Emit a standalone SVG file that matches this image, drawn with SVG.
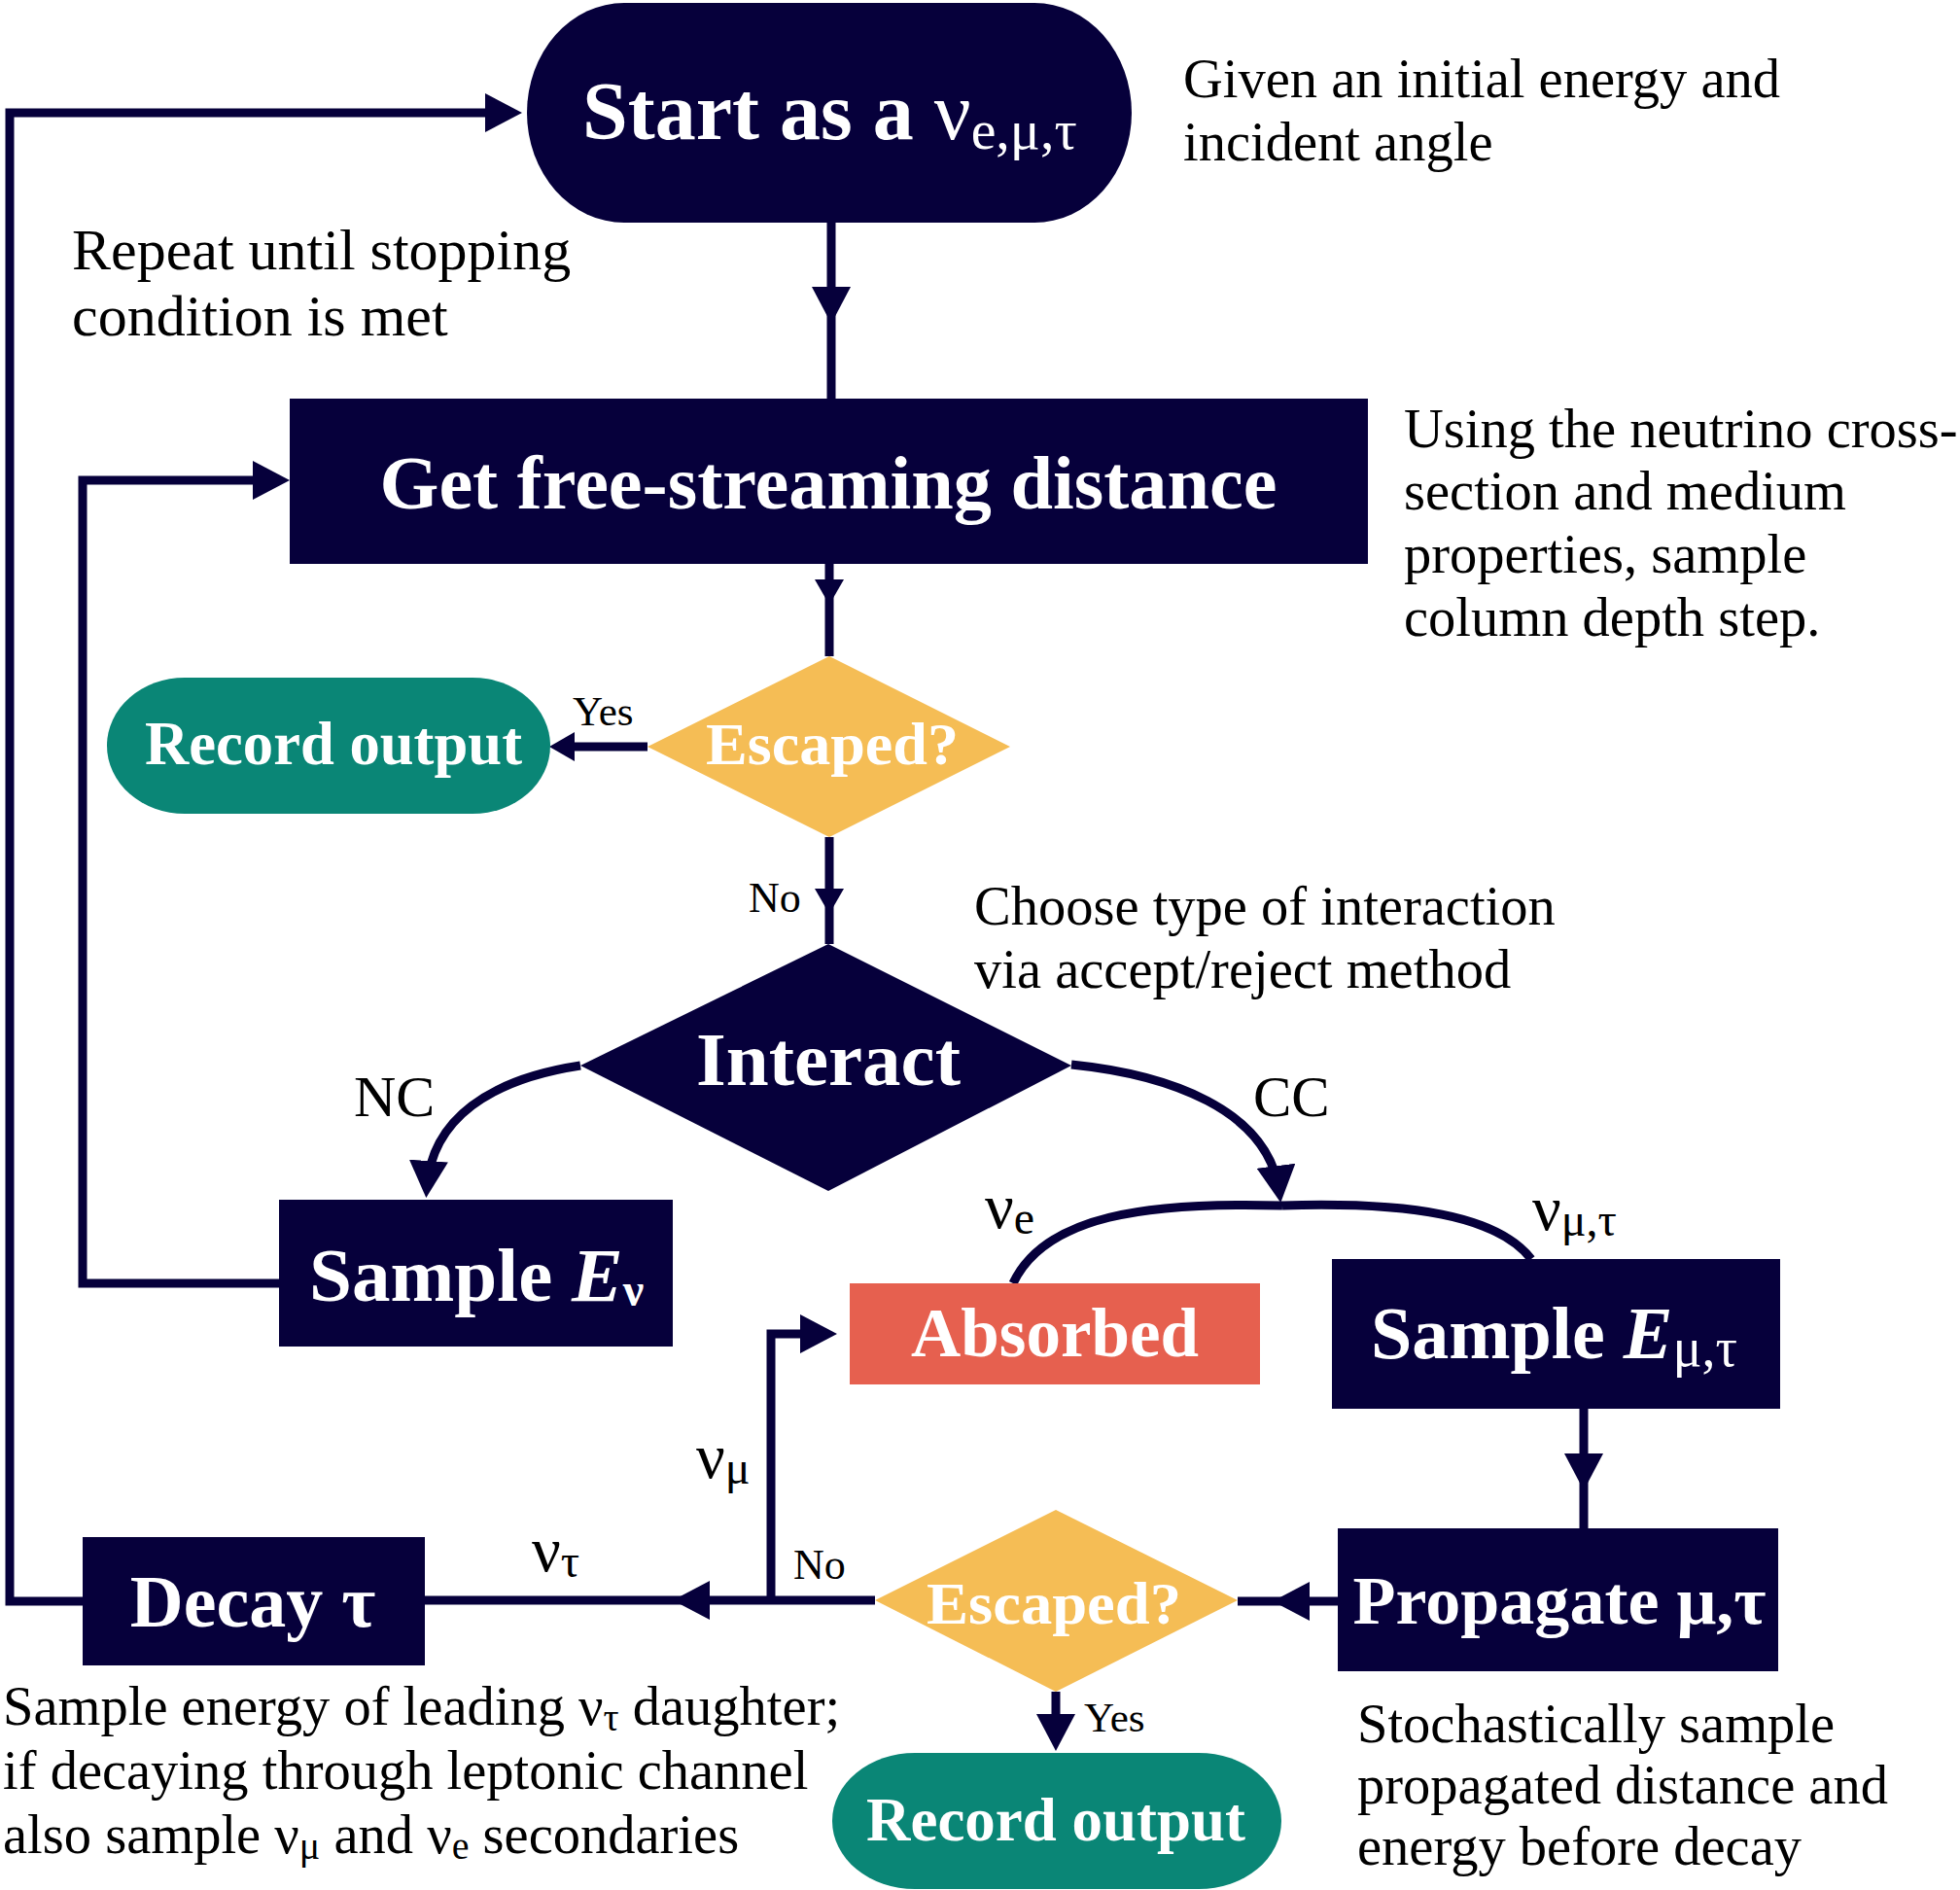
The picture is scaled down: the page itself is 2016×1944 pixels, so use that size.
<svg xmlns="http://www.w3.org/2000/svg" width="2016" height="1944" viewBox="0 0 2016 1944">
<defs>
<style>
.navy{fill:#06003B}
.orange{fill:#F5BD55}
.teal{fill:#0A8676}
.coral{fill:#E6604F}
.lbl{font-family:"Liberation Serif","Times New Roman",serif;font-weight:bold;fill:#FFFFFF}
.ann{font-family:"Liberation Serif","Times New Roman",serif;fill:#000000;font-size:56.5px}
.ann.big{font-size:60px}
.tag{font-family:"Liberation Serif","Times New Roman",serif;fill:#000000}
.conn{fill:none;stroke:#06003B;stroke-width:9}
.head{fill:#06003B}
</style>
<marker id="mb" markerUnits="userSpaceOnUse" viewBox="0 0 38 40" refX="38" refY="20" markerWidth="38" markerHeight="40" orient="auto"><path class="head" d="M0,0 L38,20 L0,40 z"/></marker>
<marker id="mbe" markerUnits="userSpaceOnUse" viewBox="0 0 38 40" refX="28" refY="20" markerWidth="38" markerHeight="40" orient="auto"><path class="head" d="M0,0 L38,20 L0,40 z"/></marker>
<marker id="ms" markerUnits="userSpaceOnUse" viewBox="0 0 26 30" refX="26" refY="15" markerWidth="26" markerHeight="30" orient="auto"><path class="head" d="M0,0 L26,15 L0,30 z"/></marker>
<marker id="mse" markerUnits="userSpaceOnUse" viewBox="0 0 26 30" refX="16" refY="15" markerWidth="26" markerHeight="30" orient="auto"><path class="head" d="M0,0 L26,15 L0,30 z"/></marker>
</defs>
<rect width="2016" height="1944" fill="#FFFFFF"/>

<g id="connectors" class="conn">
<path d="M855,229 V333 V410" marker-mid="url(#mb)"/>
<path d="M853,580 V622 V675" marker-mid="url(#ms)"/>
<path d="M666,768 H575" marker-end="url(#mse)"/>
<path d="M853,861 V940 V971" marker-mid="url(#ms)"/>
<path d="M597,1096 C505,1110 444,1150 439,1222" marker-end="url(#mbe)"/>
<path d="M1102,1095 C1200,1105 1305,1140 1316,1227" marker-end="url(#mbe)"/>
<path d="M1319,1240 C1180,1236 1075,1250 1042,1320"/>
<path d="M1319,1240 C1450,1236 1540,1250 1575,1295"/>
<path d="M287,1320 H85 V494 H288" marker-end="url(#mbe)"/>
<path d="M1629,1449 V1533 V1572" marker-mid="url(#mb)"/>
<path d="M1376,1647 H1309 H1273" marker-mid="url(#mb)"/>
<path d="M900,1646 H692 H437" marker-mid="url(#mb)"/>
<path d="M793,1646 V1372 H851" marker-end="url(#mbe)"/>
<path d="M1086,1740 V1791" marker-end="url(#mbe)"/>
<path d="M85,1647 H10 V116 H527" marker-end="url(#mbe)"/>
</g>

<g id="edge-labels">
<text class="tag" x="589" y="746" font-size="43">Yes</text>
<text class="tag" x="770" y="938" font-size="44">No</text>
<text class="tag" x="364" y="1148" font-size="60">NC</text>
<text class="tag" x="1289" y="1148" font-size="59">CC</text>
<text class="tag" x="1013" y="1263" font-size="66">ν<tspan font-size="48" dy="6">e</tspan></text>
<text class="tag" x="1576" y="1265" font-size="66">ν<tspan font-size="48" dy="6">μ,τ</tspan></text>
<text class="tag" x="716" y="1520" font-size="66">ν<tspan font-size="48" dy="6">μ</tspan></text>
<text class="tag" x="547" y="1616" font-size="66">ν<tspan font-size="48" dy="6">τ</tspan></text>
<text class="tag" x="816" y="1624" font-size="44">No</text>
<text class="tag" x="1115" y="1781" font-size="43">Yes</text>
</g>

<g id="start">
<rect class="navy" x="542" y="3" width="622" height="226" rx="100" ry="113"/>
<text class="lbl" x="599" y="143" font-size="84">Start as a <tspan font-weight="normal">ν</tspan><tspan font-weight="normal" font-size="58" dy="10">e,μ,τ</tspan></text>
</g>

<g id="get-distance">
<rect class="navy" x="298" y="410" width="1109" height="170"/>
<text class="lbl" x="852" y="523" font-size="78" text-anchor="middle" textLength="923" lengthAdjust="spacingAndGlyphs">Get free-streaming distance</text>
</g>

<g id="escaped-1">
<polygon class="orange" points="853,675 1039,768 853,861 666,768"/>
<text class="lbl" x="856" y="786" font-size="62" text-anchor="middle" textLength="260" lengthAdjust="spacingAndGlyphs">Escaped?</text>
</g>

<g id="record-1">
<rect class="teal" x="110" y="697" width="456" height="140" rx="80" ry="70"/>
<text class="lbl" x="343" y="786" font-size="64" text-anchor="middle" textLength="388" lengthAdjust="spacingAndGlyphs">Record output</text>
</g>

<g id="interact">
<polygon class="navy" points="852,971 1102,1096 852,1225 597,1096"/>
<text class="lbl" x="852" y="1116" font-size="79" text-anchor="middle">Interact</text>
</g>

<g id="sample-ev">
<rect class="navy" x="287" y="1234" width="405" height="151"/>
<text class="lbl" x="318" y="1338" font-size="79">Sample <tspan font-style="italic">E</tspan><tspan font-size="48" dy="5">ν</tspan></text>
</g>

<g id="absorbed">
<rect class="coral" x="874" y="1320" width="422" height="104"/>
<text class="lbl" x="1085" y="1395" font-size="71" text-anchor="middle">Absorbed</text>
</g>

<g id="sample-emt">
<rect class="navy" x="1370" y="1295" width="461" height="154"/>
<text class="lbl" x="1410" y="1397" font-size="76">Sample <tspan font-style="italic">E</tspan><tspan font-weight="normal" font-size="56" dy="8">μ,τ</tspan></text>
</g>

<g id="propagate">
<rect class="navy" x="1376" y="1572" width="453" height="147"/>
<text class="lbl" x="1604" y="1670" font-size="70" text-anchor="middle" textLength="425" lengthAdjust="spacingAndGlyphs">Propagate μ,τ</text>
</g>

<g id="escaped-2">
<polygon class="orange" points="1086,1553 1273,1646 1086,1740 900,1646"/>
<text class="lbl" x="1084" y="1670" font-size="62" text-anchor="middle" textLength="262" lengthAdjust="spacingAndGlyphs">Escaped?</text>
</g>

<g id="decay">
<rect class="navy" x="85" y="1581" width="352" height="132"/>
<text class="lbl" x="260" y="1673" font-size="76" text-anchor="middle">Decay τ</text>
</g>

<g id="record-2">
<rect class="teal" x="856" y="1803" width="462" height="140" rx="85" ry="70"/>
<text class="lbl" x="1086" y="1893" font-size="64" text-anchor="middle" textLength="390" lengthAdjust="spacingAndGlyphs">Record output</text>
</g>

<g id="notes">
<text class="ann" x="1217" y="100">Given an initial energy and</text>
<text class="ann" x="1217" y="165">incident angle</text>
<text class="ann big" x="74" y="277">Repeat until stopping</text>
<text class="ann big" x="74" y="345">condition is met</text>
<text class="ann" x="1444" y="460">Using the neutrino cross-</text>
<text class="ann" x="1444" y="524">section and medium</text>
<text class="ann" x="1444" y="589">properties, sample</text>
<text class="ann" x="1444" y="654">column depth step.</text>
<text class="ann" x="1002" y="951">Choose type of interaction</text>
<text class="ann" x="1002" y="1016">via accept/reject method</text>
<text class="ann" x="3" y="1774">Sample energy of leading ν<tspan font-size="40" dy="6">τ</tspan><tspan dy="-6"> daughter;</tspan></text>
<text class="ann" x="3" y="1840">if decaying through leptonic channel</text>
<text class="ann" x="3" y="1906">also sample ν<tspan font-size="40" dy="6">μ</tspan><tspan dy="-6"> and ν</tspan><tspan font-size="40" dy="6">e</tspan><tspan dy="-6"> secondaries</tspan></text>
<text class="ann" x="1396" y="1792">Stochastically sample</text>
<text class="ann" x="1396" y="1855">propagated distance and</text>
<text class="ann" x="1396" y="1918">energy before decay</text>
</g>
</svg>
